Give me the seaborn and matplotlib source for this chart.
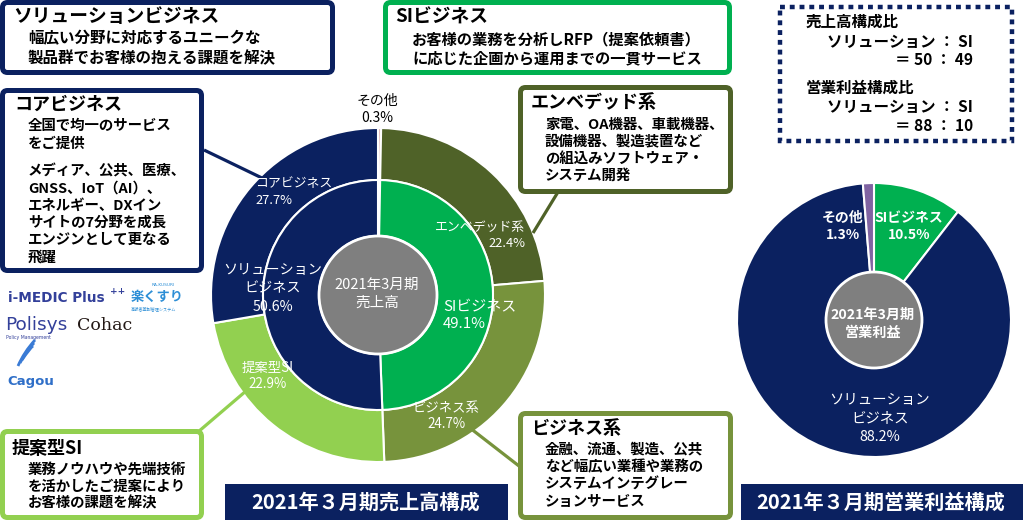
import matplotlib
matplotlib.use("Agg")
import matplotlib.pyplot as plt
import seaborn as sns
from matplotlib.patches import FancyBboxPatch, Circle, Rectangle
from matplotlib.path import Path
from matplotlib.patches import PathPatch

# ---------------- data ----------------
sales_inner_labels = ["その他", "SIビジネス", "ソリューション\nビジネス"]
sales_inner_values = [0.3, 49.1, 50.6]
sales_outer_labels = ["その他", "エンベデッド系", "ビジネス系", "提案型SI", "コアビジネス"]
sales_outer_values = [0.3, 22.4, 24.7, 22.9, 27.7]
sales_outer_parent = [0, 1, 1, 2, 2]   # index into the inner ring
profit_labels = ["SIビジネス", "ソリューション\nビジネス", "その他"]
profit_values = [10.5, 88.2, 1.3]

sns.set_theme(style="white")
plt.rcParams["font.family"] = ["Noto Sans CJK JP", "DejaVu Sans"]

NAVY = "#0B2160"
GREEN = "#00B050"
OLIVE_D = "#4F6228"
OLIVE = "#77933C"
LGREEN = "#92D050"
PURPLE = "#8064A2"
GREY = "#7F7F7F"
PINK = "#E6B9B8"

inner_colors = [PINK, GREEN, NAVY]
outer_colors = [PINK, OLIVE_D, OLIVE, LGREEN, NAVY]
profit_colors = [GREEN, NAVY, PURPLE]

W, H = 1025, 522
fig = plt.figure(figsize=(W / 100, H / 100), dpi=100)
fig.patch.set_facecolor("white")


def pix_axes(cx, cy, half):
    ax = fig.add_axes([(cx - half) / W, (H - cy - half) / H, 2 * half / W, 2 * half / H])
    return ax


# ---------------- left donut (sales) ----------------
cx, cy, R_out, R_mid, R_in = 378, 295, 167, 115, 59
ax1 = pix_axes(cx, cy, 175)
# outer wedges scaled so each sub-group fills its parent segment
group_tot = {}
for v, p in zip(sales_outer_values, sales_outer_parent):
    group_tot[p] = group_tot.get(p, 0) + v
outer_sizes = [v / group_tot[p] * sales_inner_values[p]
               for v, p in zip(sales_outer_values, sales_outer_parent)]
ax1.pie(outer_sizes, radius=R_out, colors=outer_colors, startangle=90, counterclock=False,
        wedgeprops=dict(width=R_out - R_mid, edgecolor="white", linewidth=1.5))
ax1.pie(sales_inner_values, radius=R_mid, colors=inner_colors, startangle=90, counterclock=False,
        wedgeprops=dict(width=R_mid - R_in, edgecolor="white", linewidth=1.5))
ax1.add_patch(Circle((0, 0), R_in, fc=GREY, ec="white", lw=2, zorder=5))
ax1.set_xlim(-175, 175)
ax1.set_ylim(-175, 175)
ax1.set_aspect("equal")
ax1.axis("off")

# ---------------- right pie (profit) ----------------
px, py, PR, PRc = 874, 320, 137, 48
ax2 = pix_axes(px, py, 145)
ax2.pie(profit_values, radius=PR, colors=profit_colors, startangle=90, counterclock=False,
        wedgeprops=dict(edgecolor="white", linewidth=1.5))
ax2.add_patch(Circle((0, 0), PRc, fc=GREY, ec="white", lw=2, zorder=5))
ax2.set_xlim(-145, 145)
ax2.set_ylim(-145, 145)
ax2.set_aspect("equal")
ax2.axis("off")

# ---------------- overlay in pixel coordinates ----------------
ov = fig.add_axes([0, 0, 1, 1])
ov.set_xlim(0, W)
ov.set_ylim(H, 0)
ov.axis("off")
ov.patch.set_alpha(0)


def box(x0, y0, x1, y1, color, lw=3.6):
    i = 2.5
    ov.add_patch(FancyBboxPatch((x0 + i, y0 + i), x1 - x0 - 2 * i, y1 - y0 - 2 * i,
                                boxstyle="round,pad=0,rounding_size=5",
                                fc="white", ec=color, lw=lw, zorder=2))


def lines(x, y0, dy, texts, size=11, color="black", ha="left", weight="bold", **kw):
    for k, t in enumerate(texts):
        ov.text(x, y0 + k * dy, t, fontsize=size, color=color, ha=ha, va="center",
                fontweight=weight, zorder=6, **kw)


def line(pts, color, lw=2.3):
    xs, ys = zip(*pts)
    ov.plot(xs, ys, color=color, lw=lw, solid_capstyle="butt", zorder=4)


# boxes
box(0, 0, 335, 75, NAVY)
lines(13, 17, 0, ["ソリューションビジネス"], size=13.5)
lines(28, 38, 20, ["幅広い分野に対応するユニークな", "製品群でお客様の抱える課題を解決"], size=11.2)

box(383, 0, 732, 75, GREEN)
lines(395, 17, 0, ["SIビジネス"], size=13.5)
lines(412, 39, 19, ["お客様の業務を分析しRFP（提案依頼書）", "に応じた企画から運用までの一貫サービス"], size=11.0)

box(0, 88, 204, 273, NAVY)
lines(14, 104, 0, ["コアビジネス"], size=13)
lines(28, 126, 17.5, ["全国で均一のサービス", "をご提供"], size=10.4)
lines(28, 171, 17.3, ["メディア、公共、医療、", "GNSS、IoT（AI）、", "エネルギー、DXイン",
                     "サイトの7分野を成長", "エンジンとして更なる", "飛躍"], size=10.4)

box(518, 85, 733, 194, OLIVE_D)
lines(531, 102, 0, ["エンベデッド系"], size=13)
lines(545, 125, 16.8, ["家電、OA機器、車載機器、", "設備機器、製造装置など",
                      "の組込みソフトウェア・", "システム開発"], size=10.4)

box(518, 411, 733, 520, OLIVE)
lines(531, 428, 0, ["ビジネス系"], size=13)
lines(545, 450, 17.3, ["金融、流通、製造、公共", "など幅広い業種や業務の",
                      "システムインテグレー", "ションサービス"], size=10.4)

box(0, 429, 204, 520, LGREEN)
lines(12, 448, 0, ["提案型SI"], size=13)
lines(28, 470, 16.7, ["業務ノウハウや先端技術", "を活かしたご提案により", "お客様の課題を解決"], size=10.4)

# dotted summary box
ov.add_patch(Rectangle((780, 7), 232, 134, fc="white", ec=NAVY, lw=3.2,
                       ls=(0, (1.1, 1.1)), capstyle="butt", zorder=2))
lines(806, 22, 0, ["売上高構成比"], size=11.2)
lines(973, 42, 0, ["ソリューション ： SI"], size=11.2, ha="right")
lines(973, 60, 0, ["＝ 50 ： 49"], size=11.2, ha="right")
lines(806, 88, 0, ["営業利益構成比"], size=11.2)
lines(973, 107, 0, ["ソリューション ： SI"], size=11.2, ha="right")
lines(973, 126, 0, ["＝ 88 ： 10"], size=11.2, ha="right")

# connectors
line([(204, 150), (262, 178)], NAVY)
line([(533, 233), (558, 192)], OLIVE_D)
line([(470, 428), (519, 466)], OLIVE)
line([(246, 391), (198, 432)], LGREEN)

# donut labels
lines(377, 101, 17, ["その他", "0.3%"], size=10, ha="center", weight="normal")
lines(255, 184, 16.5, ["コアビジネス", "27.7%"], size=9.3, color="white", weight="normal")
lines(525, 228, 15.5, ["エンベデッド系", "22.4%"], size=9.3, color="white", weight="normal", ha="right")
lines(273, 270, 18.5, ["ソリューション", "ビジネス", "50.6%"], size=10.2, color="white",
      weight="normal", ha="center")
lines(443, 307, 16.5, ["SIビジネス", "49.1%"], size=10.8, color="white", weight="normal")
lines(268, 368, 15.5, ["提案型SI", "22.9%"], size=9.6, color="white", weight="normal", ha="center")
lines(446, 408, 15.5, ["ビジネス系", "24.7%"], size=9.6, color="white", weight="normal", ha="center")
lines(377, 285, 18, ["2021年3月期", "売上高"], size=10.5, color="white", weight="normal", ha="center")

# profit labels
lines(843, 218, 17, ["その他", "1.3%"], size=10, color="white", weight="bold", ha="center")
lines(909, 218, 17, ["SIビジネス", "10.5%"], size=10, color="white", weight="bold", ha="center")
lines(880, 400, 18.5, ["ソリューション", "ビジネス", "88.2%"], size=10.4, color="white",
      weight="normal", ha="center")
lines(873, 315, 17.5, ["2021年3月期", "営業利益"], size=10.2, color="white", weight="bold", ha="center")

# title bars
ov.add_patch(Rectangle((225, 484), 283, 36, fc=NAVY, ec="none", zorder=2))
ov.text(366, 502, "2021年３月期売上高構成", fontsize=14.5, color="white", ha="center",
        va="center", fontweight="bold", zorder=6)
ov.add_patch(Rectangle((741, 484), 282, 36, fc=NAVY, ec="none", zorder=2))
ov.text(881, 502, "2021年３月期営業利益構成", fontsize=14.5, color="white", ha="center",
        va="center", fontweight="bold", zorder=6)

# product logos (as text)
ov.text(8, 298, "i-MEDIC Plus", fontsize=9.8, color="#33409A", fontweight="bold",
        va="center", family=["DejaVu Sans"], zorder=6)
ov.text(110, 292, "++", fontsize=6.5, color="#33409A", fontweight="bold", va="center",
        family=["DejaVu Sans"], zorder=6)
ov.text(131, 297, "楽くすり", fontsize=9.5, color="#2E8FD6", fontweight="bold", va="center", zorder=6)
ov.text(152, 285, "RA-KUSURI", fontsize=3.2, color="#2E8FD6", va="center",
        family=["DejaVu Sans"], zorder=6)
ov.text(131, 309, "高齢者薬剤管理システム", fontsize=3.0, color="#2E8FD6", va="center", zorder=6)
ov.text(5, 325, "Polisys", fontsize=13.3, color="#33409A", va="center",
        family=["DejaVu Sans"], zorder=6)
ov.text(6, 338, "Policy Management", fontsize=3.3, color="#33409A", va="center",
        family=["DejaVu Sans"], zorder=6)
ov.text(77, 325, "Cohac", fontsize=12.5, color="#231815", va="center",
        family=["DejaVu Serif"], zorder=6)
for k in range(3):
    verts = [(18 + 2 * k, 366 - 3 * k), (24 + 3 * k, 352 - 2 * k), (35 - k, 340 + 3 * k)]
    ov.add_patch(PathPatch(Path(verts, [Path.MOVETO, Path.CURVE3, Path.CURVE3]),
                           fc="none", ec="#3A7BD5", lw=2.0, zorder=6))
ov.text(7, 381, "Cagou", fontsize=9.5, color="#2F6FC8", fontweight="bold", va="center",
        family=["DejaVu Sans"], zorder=6)

fig.savefig("out.png", dpi=100)
